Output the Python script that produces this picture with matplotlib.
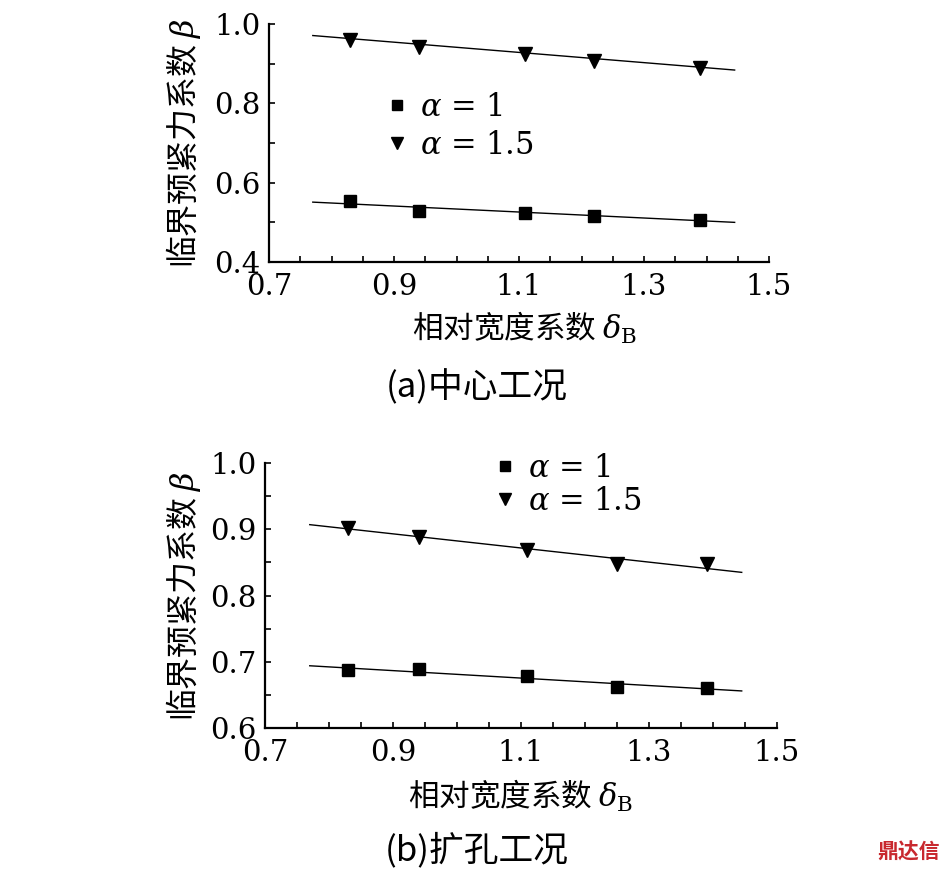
import numpy as np
import matplotlib
matplotlib.use('Agg')
import matplotlib.pyplot as plt
from matplotlib.ticker import MultipleLocator, FormatStrFormatter

plt.rcParams['font.family'] = ['Noto Sans CJK SC', 'DejaVu Sans']
plt.rcParams['mathtext.fontset'] = 'dejavuserif'

## data
x_a = [0.83, 0.94, 1.11, 1.22, 1.39]
beta_a_1 = [0.554, 0.529, 0.523, 0.515, 0.507]
beta_a_15 = [0.961, 0.943, 0.924, 0.908, 0.890]

x_b = [0.83, 0.94, 1.11, 1.25, 1.39]
beta_b_1 = [0.688, 0.689, 0.678, 0.662, 0.661]
beta_b_15 = [0.902, 0.888, 0.868, 0.847, 0.848]

## fitted lines (end points)
fit_x = [0.77, 1.445]
fit_a_1 = [0.551, 0.500]
fit_a_15 = [0.971, 0.884]
fit_b_1 = [0.694, 0.656]
fit_b_15 = [0.907, 0.835]

x_ticks = [0.7, 0.9, 1.1, 1.3, 1.5]
labels = [r'$\alpha$ = 1', r'$\alpha$ = 1.5']
captions = ['(a)中心工况', '(b)扩孔工况']

tick_font = {'family': 'DejaVu Serif', 'size': 21}
label_size = 23

fig = plt.figure(figsize=(9.5, 8.74), dpi=100)
ax1 = fig.add_axes([0.2832, 0.7002, 0.5263, 0.2723])
ax2 = fig.add_axes([0.2789, 0.1670, 0.5389, 0.3032])


def style_axes(ax, ylim, ymajor, yminor):
    ax.set_xlim(0.7, 1.5)
    ax.set_ylim(*ylim)
    for side in ['top', 'right']:
        ax.spines[side].set_visible(False)
    for side in ['left', 'bottom']:
        ax.spines[side].set_linewidth(1.6)
    ax.set_xticks(x_ticks)
    ax.xaxis.set_minor_locator(MultipleLocator(0.05))
    ax.yaxis.set_major_locator(MultipleLocator(ymajor))
    ax.yaxis.set_minor_locator(MultipleLocator(yminor))
    ax.xaxis.set_major_formatter(FormatStrFormatter('%.1f'))
    ax.yaxis.set_major_formatter(FormatStrFormatter('%.1f'))
    ax.tick_params(which='both', direction='in', length=4.5, width=1.2)
    ax.tick_params(axis='x', which='major', pad=8)
    ax.tick_params(axis='y', which='major', pad=6)
    for lab in ax.get_xticklabels() + ax.get_yticklabels():
        lab.set_fontfamily(tick_font['family'])
        lab.set_fontsize(tick_font['size'])
    ax.set_ylabel(r'临界预紧力系数 $\beta$', fontsize=label_size)
    ax.set_xlabel(r'相对宽度系数 $\delta_\mathrm{B}$', fontsize=label_size - 1)


leg_kw = dict(loc='upper left', bbox_transform=fig.transFigure, frameon=False,
              numpoints=1, handlelength=0.8, handletextpad=0.35, borderpad=0,
              markerscale=0.85, prop={'family': 'DejaVu Serif', 'size': 22})

## (a) centre case
ax1.plot(fit_x, fit_a_15, color='black', lw=1)
ax1.plot(fit_x, fit_a_1, color='black', lw=1)
ax1.plot(x_a, beta_a_1, 's', color='black', ms=8, label=labels[0])
ax1.plot(x_a, beta_a_15, 'v', color='black', ms=10, label=labels[1])
style_axes(ax1, (0.4, 1.0), 0.2, 0.1)
ax1.yaxis.set_label_coords(-0.132, 0.5)
ax1.xaxis.set_label_coords(0.51, -0.2)
ax1.legend(bbox_to_anchor=(0.389, 0.912), labelspacing=0.22, **leg_kw)

## (b) reaming case
ax2.plot(fit_x, fit_b_15, color='black', lw=1)
ax2.plot(fit_x, fit_b_1, color='black', lw=1)
ax2.plot(x_b, beta_b_1, 's', color='black', ms=8, label=labels[0])
ax2.plot(x_b, beta_b_15, 'v', color='black', ms=10, label=labels[1])
style_axes(ax2, (0.6, 1.0), 0.1, 0.05)
ax2.yaxis.set_label_coords(-0.121, 0.5)
ax2.xaxis.set_label_coords(0.5, -0.19)
ax2.legend(bbox_to_anchor=(0.503, 0.499), labelspacing=0.06, **leg_kw)

## captions
fig.text(0.502, 1 - 388 / 874, captions[0], ha='center', va='center', fontsize=25, fontweight='light')
fig.text(0.502, 1 - 850 / 874, captions[1], ha='center', va='center', fontsize=25, fontweight='light')

## watermark
fig.text(0.989, 1 - 852 / 874, '鼎达信', ha='right', va='center', fontsize=15,
         fontweight='bold', color='#c8282e')

fig.savefig('out.png', dpi=100)
